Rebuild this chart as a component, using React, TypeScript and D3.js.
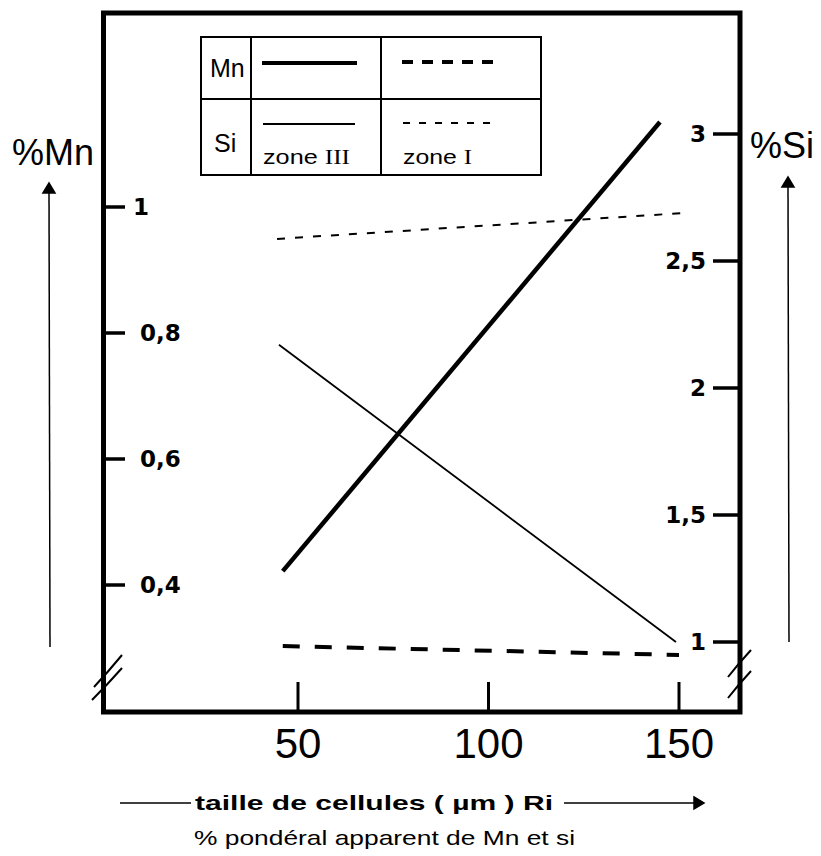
import * as d3 from "d3";

// x axis: taille de cellules (µm)
const xTicks = [50, 100, 150];
const mnTicks = [0.4, 0.6, 0.8, 1];
const siTicks = [1, 1.5, 2, 2.5, 3];
const mnTickLabels = ["0,4", "0,6", "0,8", "1"];
const siTickLabels = ["1", "1,5", "2", "2,5", "3"];

// [taille, %]
const mnZone3 = [
  [46, 0.422],
  [145, 1.135],
];
const mnZone1 = [
  [46, 0.303],
  [150, 0.289],
];
const siZone3 = [
  [45, 2.17],
  [149.2, 1.0],
];
const siZone1 = [
  [44.5, 2.587],
  [151.3, 2.689],
];

const W = 821;
const H = 856;
const frame = { left: 103.5, right: 740, top: 13, bottom: 712 };
const font = "'Liberation Sans', Arial, sans-serif";

export default function App() {
  const x = d3.scaleLinear().domain([50, 150]).range([298, 679]);
  const yMn = d3.scaleLinear().domain([0.4, 1]).range([585, 207]);
  const ySi = d3.scaleLinear().domain([1, 3]).range([642, 134]);

  const lineMn = d3
    .line<number[]>()
    .x((d) => x(d[0]))
    .y((d) => yMn(d[1]));
  const lineSi = d3
    .line<number[]>()
    .x((d) => x(d[0]))
    .y((d) => ySi(d[1]));

  // legend table
  const lg = { left: 201, right: 541, top: 37, mid: 99, bottom: 175, c1: 251, c2: 381 };

  return (
    <svg
      width={W}
      height={H}
      style={{ position: "absolute", left: 0, top: 0, background: "white" }}
    >
      <rect width={W} height={H} fill="white" />

      {/* frame */}
      <rect
        x={frame.left}
        y={frame.top}
        width={frame.right - frame.left}
        height={frame.bottom - frame.top}
        fill="none"
        stroke="black"
        strokeWidth={5}
      />

      {/* axis breaks */}
      <g stroke="black" strokeWidth={2} fill="none">
        <path d="M94,687 Q108,672 122,655" />
        <path d="M92,700 Q107,685 122,668" />
        <path d="M728,677 Q739,663 751,650" />
        <path d="M728,698 Q739,684 751,671" />
      </g>

      {/* left ticks (%Mn) */}
      <g>
        {mnTicks.map((t, i) => (
          <g key={t}>
            <line
              x1={frame.left}
              x2={125}
              y1={yMn(t)}
              y2={yMn(t)}
              stroke="black"
              strokeWidth={3.5}
            />
            <text
              x={t === 1 ? 133 : 140}
              y={yMn(t)}
              dy="0.36em"
              fontFamily="'DejaVu Sans', sans-serif"
              fontWeight="bold"
              fontSize={23}
            >
              {mnTickLabels[i]}
            </text>
          </g>
        ))}
      </g>

      {/* right ticks (%Si) */}
      <g>
        {siTicks.map((t, i) => (
          <g key={t}>
            <line
              x1={frame.right}
              x2={713}
              y1={ySi(t)}
              y2={ySi(t)}
              stroke="black"
              strokeWidth={3.5}
            />
            <text
              x={706}
              y={ySi(t)}
              dy="0.36em"
              textAnchor="end"
              fontFamily="'DejaVu Sans', sans-serif"
              fontWeight="bold"
              fontSize={23}
            >
              {siTickLabels[i]}
            </text>
          </g>
        ))}
      </g>

      {/* bottom ticks */}
      <g>
        {xTicks.map((t) => (
          <g key={t}>
            <line
              x1={x(t)}
              x2={x(t)}
              y1={frame.bottom}
              y2={682}
              stroke="black"
              strokeWidth={3}
            />
            <text
              x={x(t)}
              y={758}
              textAnchor="middle"
              fontFamily={font}
              fontSize={42}
            >
              {t}
            </text>
          </g>
        ))}
      </g>

      {/* series */}
      <path d={lineMn(mnZone3)!} fill="none" stroke="black" strokeWidth={4.5} />
      <path
        d={lineMn(mnZone1)!}
        fill="none"
        stroke="black"
        strokeWidth={4}
        strokeDasharray="17 15"
      />
      <path d={lineSi(siZone3)!} fill="none" stroke="black" strokeWidth={1.8} />
      <path
        d={lineSi(siZone1)!}
        fill="none"
        stroke="black"
        strokeWidth={2}
        strokeDasharray="8 10"
      />

      {/* legend table */}
      <g stroke="black" strokeWidth={2} fill="none">
        <rect x={lg.left} y={lg.top} width={lg.right - lg.left} height={lg.bottom - lg.top} />
        <line x1={lg.left} x2={lg.right} y1={lg.mid} y2={lg.mid} />
        <line x1={lg.c1} x2={lg.c1} y1={lg.top} y2={lg.bottom} />
        <line x1={lg.c2} x2={lg.c2} y1={lg.top} y2={lg.bottom} />
        <line x1={262} x2={357} y1={63} y2={63} strokeWidth={4} />
        <line x1={402} x2={498} y1={62} y2={62} strokeWidth={4} strokeDasharray="11 9" />
        <line x1={263} x2={355} y1={124} y2={124} strokeWidth={2} />
        <line x1={403} x2={495} y1={123} y2={123} strokeWidth={2} strokeDasharray="7 9" />
      </g>
      <g fontFamily={font} fontSize={25}>
        <text x={210} y={77}>Mn</text>
        <text x={214} y={152}>Si</text>
        <text x={263} y={164} fontSize={21} textLength={87} lengthAdjust="spacingAndGlyphs">
          zone <tspan fontFamily="'Liberation Serif', serif">III</tspan>
        </text>
        <text x={403} y={164} fontSize={21} textLength={69} lengthAdjust="spacingAndGlyphs">
          zone <tspan fontFamily="'Liberation Serif', serif">I</tspan>
        </text>
      </g>

      {/* axis titles */}
      <text x={12} y={165} fontFamily={font} fontSize={36}>
        %Mn
      </text>
      <text x={750} y={158} fontFamily={font} fontSize={36}>
        %Si
      </text>

      {/* vertical arrows */}
      <g stroke="black" strokeWidth={1.5} fill="black">
        <line x1={49} x2={50} y1={190} y2={647} />
        <path d="M43,193 L49,183 L55,193 Z" />
        <line x1={788} x2={789} y1={184} y2={642} />
        <path d="M782,187 L788,177 L794,187 Z" />
      </g>

      {/* x title */}
      <g stroke="black" strokeWidth={1.5} fill="black">
        <line x1={120} x2={191} y1={803} y2={803} />
        <line x1={564} x2={696} y1={803} y2={803} />
        <path d="M694,797 L704,803 L694,809 Z" />
      </g>
      <text
        x={195}
        y={810}
        fontFamily={font}
        fontWeight="bold"
        fontSize={21}
        textLength={358}
        lengthAdjust="spacingAndGlyphs"
      >
        taille de cellules ( µm ) Ri
      </text>
      <text
        x={194}
        y={845}
        fontFamily={font}
        fontSize={21}
        textLength={381}
        lengthAdjust="spacingAndGlyphs"
      >
        % pondéral apparent de Mn et si
      </text>
    </svg>
  );
}
